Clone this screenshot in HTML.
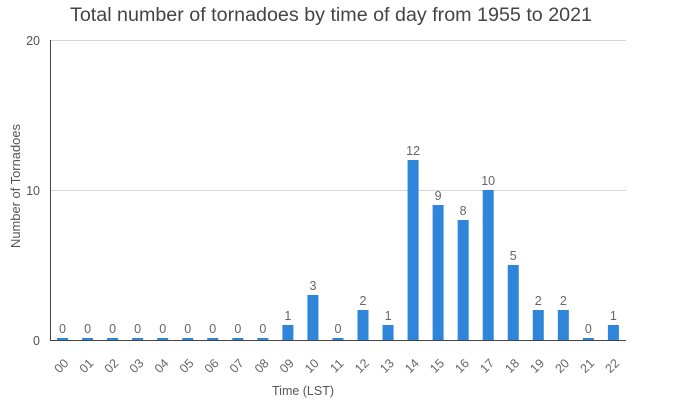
<!DOCTYPE html>
<html><head><meta charset="utf-8"><style>
html,body{margin:0;padding:0;background:#fff;}
svg{display:block;}
text{font-family:"Liberation Sans",Arial,sans-serif;}
</style></head><body>
<svg width="675" height="400" viewBox="0 0 675 400" xmlns="http://www.w3.org/2000/svg">
<rect width="675" height="400" fill="#fff"/>
<text x="331" y="21" text-anchor="middle" font-size="19" fill="#444" textLength="522" lengthAdjust="spacingAndGlyphs">Total number of tornadoes by time of day from 1955 to 2021</text>
<line x1="50" y1="40.5" x2="626" y2="40.5" stroke="#d6d6d6" stroke-width="1"/>
<line x1="50" y1="190.5" x2="626" y2="190.5" stroke="#d6d6d6" stroke-width="1"/>
<g font-size="12.5" fill="#555" text-anchor="end">
<text x="40" y="45">20</text>
<text x="40" y="195">10</text>
<text x="40" y="345">0</text>
</g>
<text transform="translate(20,186) rotate(-90)" text-anchor="middle" font-size="12.5" fill="#555" textLength="124" lengthAdjust="spacingAndGlyphs">Number of Tornadoes</text>
<text x="303" y="395" text-anchor="middle" font-size="12.5" fill="#555" textLength="62" lengthAdjust="spacingAndGlyphs">Time (LST)</text>
<g id="bars" fill="#2f85da"></g>
<g id="vals" font-size="12.5" fill="#666" text-anchor="middle"></g>
<g id="ticks" font-size="12.5" fill="#666" text-anchor="middle"></g>
<line x1="50.5" y1="40" x2="50.5" y2="341" stroke="#444" stroke-width="1"/>
<line x1="50" y1="340.5" x2="626" y2="340.5" stroke="#444" stroke-width="1"/>
<script>
var vals=[0,0,0,0,0,0,0,0,0,1,3,0,2,1,12,9,8,10,5,2,2,0,1];
var bw=25.04,ns="http://www.w3.org/2000/svg";
var bars=document.getElementById('bars'),vg=document.getElementById('vals'),tg=document.getElementById('ticks');
vals.forEach(function(v,i){
  var cx=50+bw*(i+0.5);
  var h=v*15; if(h<2)h=2;
  var r=document.createElementNS(ns,'rect');
  r.setAttribute('x',(cx-5.5).toFixed(2));r.setAttribute('y',(340-h).toFixed(2));
  r.setAttribute('width',11);r.setAttribute('height',h);
  bars.appendChild(r);
  var t=document.createElementNS(ns,'text');
  t.setAttribute('x',cx.toFixed(2));t.setAttribute('y',(340-h-5).toFixed(2));
  t.textContent=v;vg.appendChild(t);
  var k=document.createElementNS(ns,'text');
  var lx=cx-1,ly=366;
  k.setAttribute('x',lx.toFixed(2));k.setAttribute('y',(ly+4).toFixed(2));
  k.setAttribute('transform','rotate(-45 '+lx.toFixed(2)+' '+ly+')');
  k.textContent=(i<10?'0':'')+i;tg.appendChild(k);
});
</script>
</svg>
</body></html>
